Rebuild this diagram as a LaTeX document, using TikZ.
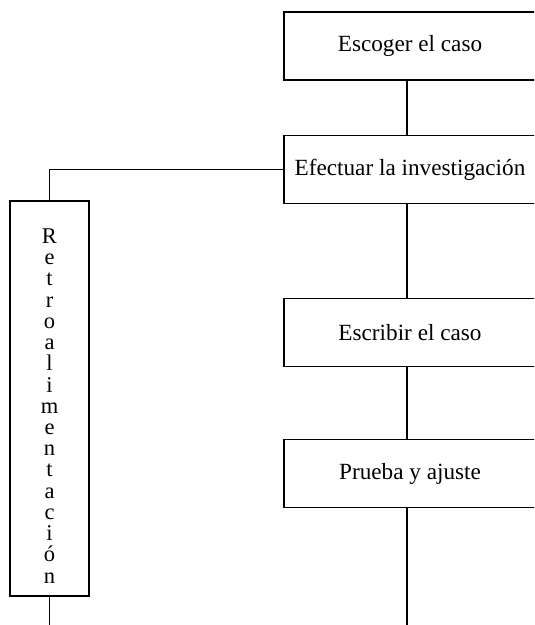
\documentclass[tikz,border=0pt]{standalone}
\usepackage{fontspec}
\setmainfont{Liberation Serif}
\tikzset{
  caja/.style={draw, line width=0.8pt, minimum width=6.3cm, minimum height=1.7cm, inner sep=0pt, font=\fontsize{16.5}{19}\selectfont},
  linea/.style={line width=0.9pt}
}
\begin{document}
\begin{tikzpicture}[x=0.025cm, y=-0.025cm]
    \useasboundingbox (0,0) rectangle (534,625);
    \clip (0,0) rectangle (534,625);

    % Pasos
    \node[caja] (escoger) at (410,46) {Escoger el caso};
    \node[caja] (investigar) at (410,169.5) {Efectuar la investigación};
    \node[caja] (escribir) at (410,332.5) {Escribir el caso};
    \node[caja] (prueba) at (410,473.5) {Prueba y ajuste};

    % Retroalimentación
    \node[draw, line width=0.8pt, minimum width=1.975cm, minimum height=9.875cm, inner sep=0pt,
          align=center, font=\fontsize{16}{15.1}\selectfont] (retro) at (49.5,398.5)
      {\rule{0pt}{21pt}R\\e\\t\\r\\o\\a\\l\\i\\m\\e\\n\\t\\a\\c\\i\\ó\\n};

    % Conectores
    \coordinate (eje) at (407,0);
    \coordinate (finder) at (407,625);
    \coordinate (finizq) at (49.5,625);
    \draw[linea] (escoger.south -| eje) -- (investigar.north -| eje);
    \draw[linea] (investigar.south -| eje) -- (escribir.north -| eje);
    \draw[linea] (escribir.south -| eje) -- (prueba.north -| eje);
    \draw[linea] (prueba.south -| eje) -- (finder);
    \draw[linea] (investigar.west) -| (retro.north);
    \draw[linea] (retro.south) -- (finizq);
\end{tikzpicture}
\end{document}
